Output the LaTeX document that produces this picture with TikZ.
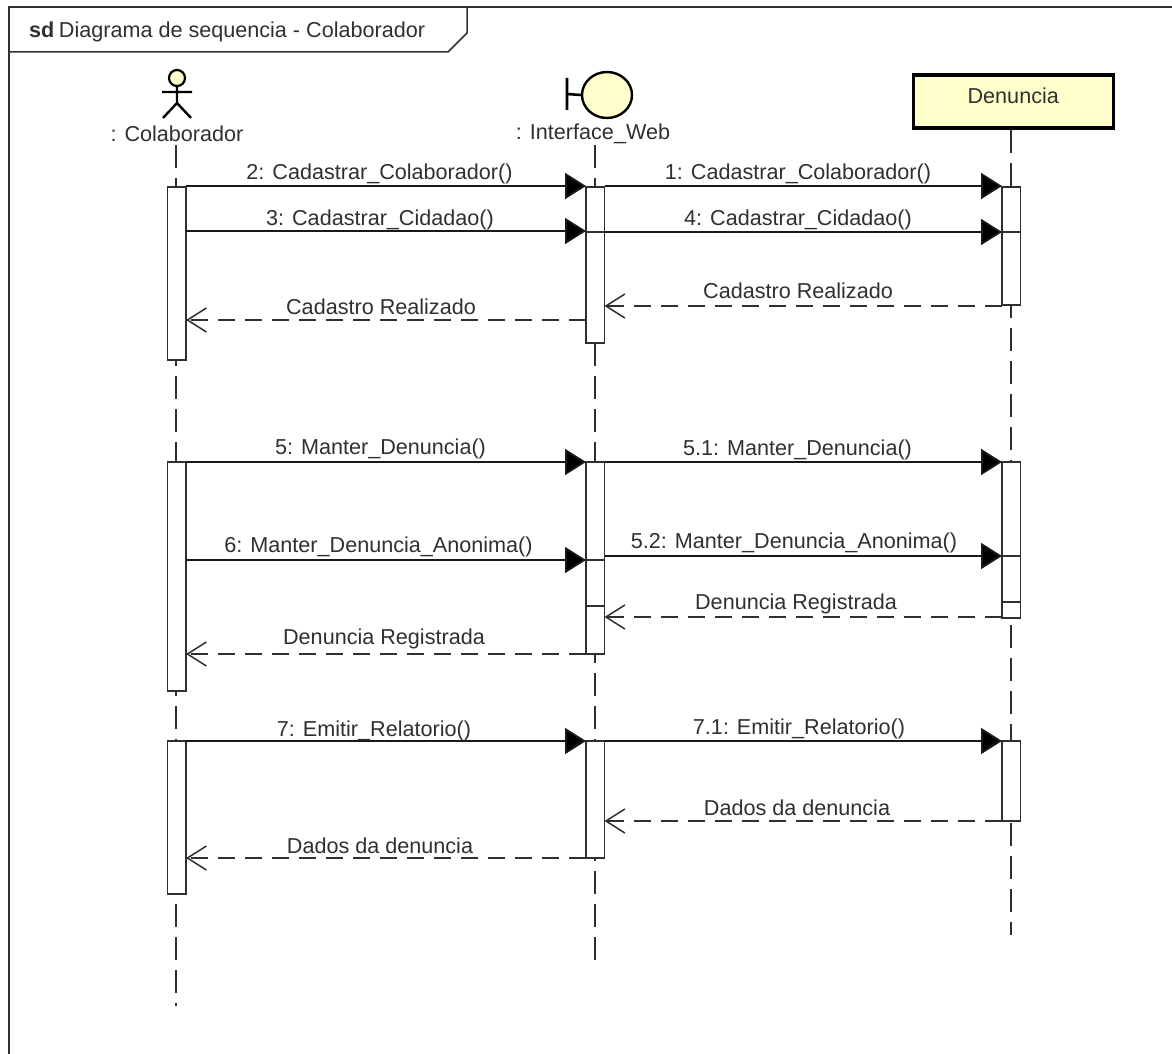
\documentclass[tikz,border=0pt]{standalone}
\usepackage{fontspec}
\setmainfont{Liberation Sans}
\usetikzlibrary{arrows.meta,shapes.geometric}
\definecolor{ink}{HTML}{303030}
\definecolor{pale}{HTML}{FFFFCC}
\tikzset{
  txt/.style={inner sep=0pt,text=ink,font=\fontsize{21.6}{24}\selectfont},
  lab/.style={txt,yshift=-1.5pt},
  bar/.style={draw=ink,line width=1.8pt,fill=white,anchor=north west,inner sep=0pt,outer sep=0pt,minimum width=18.5pt},
  life/.style={draw=ink,line width=2pt,dash pattern=on 23pt off 10pt},
  msg/.style={draw=black!90,line width=1.8pt,-{Triangle[length=21pt,width=26pt,fill=black]}},
  ret/.style={draw=ink,line width=1.8pt,dash pattern=on 17pt off 10pt,-{Straight Barb[length=19pt,width=24pt,line width=1.5pt]}},
  div/.style={draw=ink,line width=1.5pt},
}
\begin{document}
\begin{tikzpicture}[x=1pt,y=-1pt]
\useasboundingbox (0,0) rectangle (1172,1054);
\fill[white] (0,0) rectangle (1172,1054);
% frame
\coordinate (ftl) at (9,7);
\coordinate (ftr) at (1172,7);
\coordinate (fbl) at (9,1054);
\draw[ink,line width=1.5pt] (fbl) -- (ftl) -- (ftr);
\coordinate (t1) at (9,52);
\coordinate (t2) at (448,52);
\coordinate (t3) at (467,33);
\coordinate (t4) at (467,7);
\draw[ink,line width=1.5pt] (t1) -- (t2) -- (t3) -- (t4);
\node[txt,anchor=west] (title) at (29,32) {\textbf{sd}\hspace{-1.5pt} Diagrama de sequencia - Colaborador};
% lifeline tops and ends
\coordinate (lc1) at (176,145);  \coordinate (lc2) at (176,1006);
\coordinate (li1) at (594.5,145);  \coordinate (li2) at (594.5,960);
\coordinate (ld2) at (1011,935);
% participants
\node[draw=black,line width=2.2pt,fill=pale,circle,minimum size=16pt,inner sep=0pt] (head) at (177,78) {};
\coordinate (hip) at (177,103);
\coordinate (arml) at (162,92); \coordinate (armr) at (192,92);
\coordinate (legl) at (163,118); \coordinate (legr) at (191,118);
\draw[black,line width=2.4pt] (head.south) -- (hip) (arml) -- (armr) (legl) -- (hip) -- (legr);
\node[txt] (lblc) at (177,134) {: Colaborador};
\node[draw=black,line width=2.4pt,fill=pale,ellipse,minimum width=50pt,minimum height=46pt,inner sep=0pt] (bnd) at (607,95) {};
\coordinate (bt) at (567,78); \coordinate (bb) at (567,110); \coordinate (bm) at (567,94);
\draw[black,line width=2.6pt] (bt) -- (bb) (bm) -- (bnd.west);
\node[txt] (lbli) at (593,134) {: Interface\_Web};
\node[draw=black,line width=3.5pt,fill=pale,minimum width=200pt,minimum height=53pt,inner sep=0pt,anchor=north west,text=ink,font=\fontsize{21.6}{24}\selectfont] (den) at (911.5,73.5) {\raisebox{-2pt}[0pt][0pt]{Denuncia}};
\draw[life] (lc1) -- (lc2);
\draw[life] (li1) -- (li2);
\draw[life] (den.south -| ld2) -- (ld2);
% activation bars
\node[bar,minimum height=173pt] (c1) at (167.5,187) {};
\node[bar,minimum height=229pt] (c2) at (167.5,462) {};
\node[bar,minimum height=153pt] (c3) at (167.5,741) {};
\node[bar,minimum height=156pt] (i1) at (586,187) {};
\node[bar,minimum height=192pt] (i2) at (586,462) {};
\node[bar,minimum height=117pt] (i3) at (586,741) {};
\node[bar,minimum height=118pt] (d1) at (1002,187) {};
\node[bar,minimum height=156pt] (d2) at (1002,462) {};
\node[bar,minimum height=80pt] (d3) at (1002,741) {};
% levels
\coordinate (y186) at (0,186); \coordinate (y231) at (0,231); \coordinate (y232) at (0,232);
\coordinate (y306) at (0,306); \coordinate (y320) at (0,320); \coordinate (y462) at (0,462);
\coordinate (y560) at (0,560); \coordinate (y556) at (0,556); \coordinate (y606) at (0,606);
\coordinate (y602) at (0,602); \coordinate (y617) at (0,617); \coordinate (y654) at (0,654);
\coordinate (y741) at (0,741); \coordinate (y821) at (0,821); \coordinate (y858) at (0,858);
% dividers
\draw[div] (i1.west |- y232) -- (i1.east |- y232);
\draw[div] (d1.west |- y232) -- (d1.east |- y232);
\draw[div] (i2.west |- y560) -- (i2.east |- y560);
\draw[div] (i2.west |- y606) -- (i2.east |- y606);
\draw[div] (d2.west |- y556) -- (d2.east |- y556);
\draw[div] (d2.west |- y602) -- (d2.east |- y602);
% messages
\draw[msg] (c1.east |- y186) -- (i1.west |- y186);
\draw[msg] (i1.east |- y186) -- (d1.west |- y186);
\draw[msg] (c1.east |- y231) -- (i1.west |- y231);
\draw[msg] (i1.east |- y232) -- (d1.west |- y232);
\draw[ret] (d1.west |- y306) -- (i1.east |- y306);
\draw[ret] (i1.west |- y320) -- (c1.east |- y320);
\draw[msg] (c2.east |- y462) -- (i2.west |- y462);
\draw[msg] (i2.east |- y462) -- (d2.west |- y462);
\draw[msg] (c2.east |- y560) -- (i2.west |- y560);
\draw[msg] (i2.east |- y556) -- (d2.west |- y556);
\draw[ret] (d2.west |- y617) -- (i2.east |- y617);
\draw[ret] (i2.west |- y654) -- (c2.east |- y654);
\draw[msg] (c3.east |- y741) -- (i3.west |- y741);
\draw[msg] (i3.east |- y741) -- (d3.west |- y741);
\draw[ret] (d3.west |- y821) -- (i3.east |- y821);
\draw[ret] (i3.west |- y858) -- (c3.east |- y858);
% labels
\node[lab] (l2) at (379.5,172) {2: Cadastrar\_Colaborador()};
\node[lab] (l3) at (380,218.5) {3: Cadastrar\_Cidadao()};
\node[lab] (l1) at (798,172) {1: Cadastrar\_Colaborador()};
\node[lab] (l4) at (798,218.5) {4: Cadastrar\_Cidadao()};
\node[lab] (lr1) at (798,289) {Cadastro Realizado};
\node[lab] (lr2) at (381,305) {Cadastro Realizado};
\node[lab] (l5) at (380.5,447) {5: Manter\_Denuncia()};
\node[lab] (l51) at (797.5,448) {5.1: Manter\_Denuncia()};
\node[lab] (l6) at (378.5,545) {6: Manter\_Denuncia\_Anonima()};
\node[lab] (l52) at (794,541) {5.2: Manter\_Denuncia\_Anonima()};
\node[lab] (lr3) at (796,602) {Denuncia Registrada};
\node[lab] (lr4) at (384,637) {Denuncia Registrada};
\node[lab] (l7) at (374,729.5) {7: Emitir\_Relatorio()};
\node[lab] (l71) at (799,727) {7.1: Emitir\_Relatorio()};
\node[lab] (lr5) at (797,806) {Dados da denuncia};
\node[lab] (lr6) at (380,844) {Dados da denuncia};
\end{tikzpicture}
\end{document}
